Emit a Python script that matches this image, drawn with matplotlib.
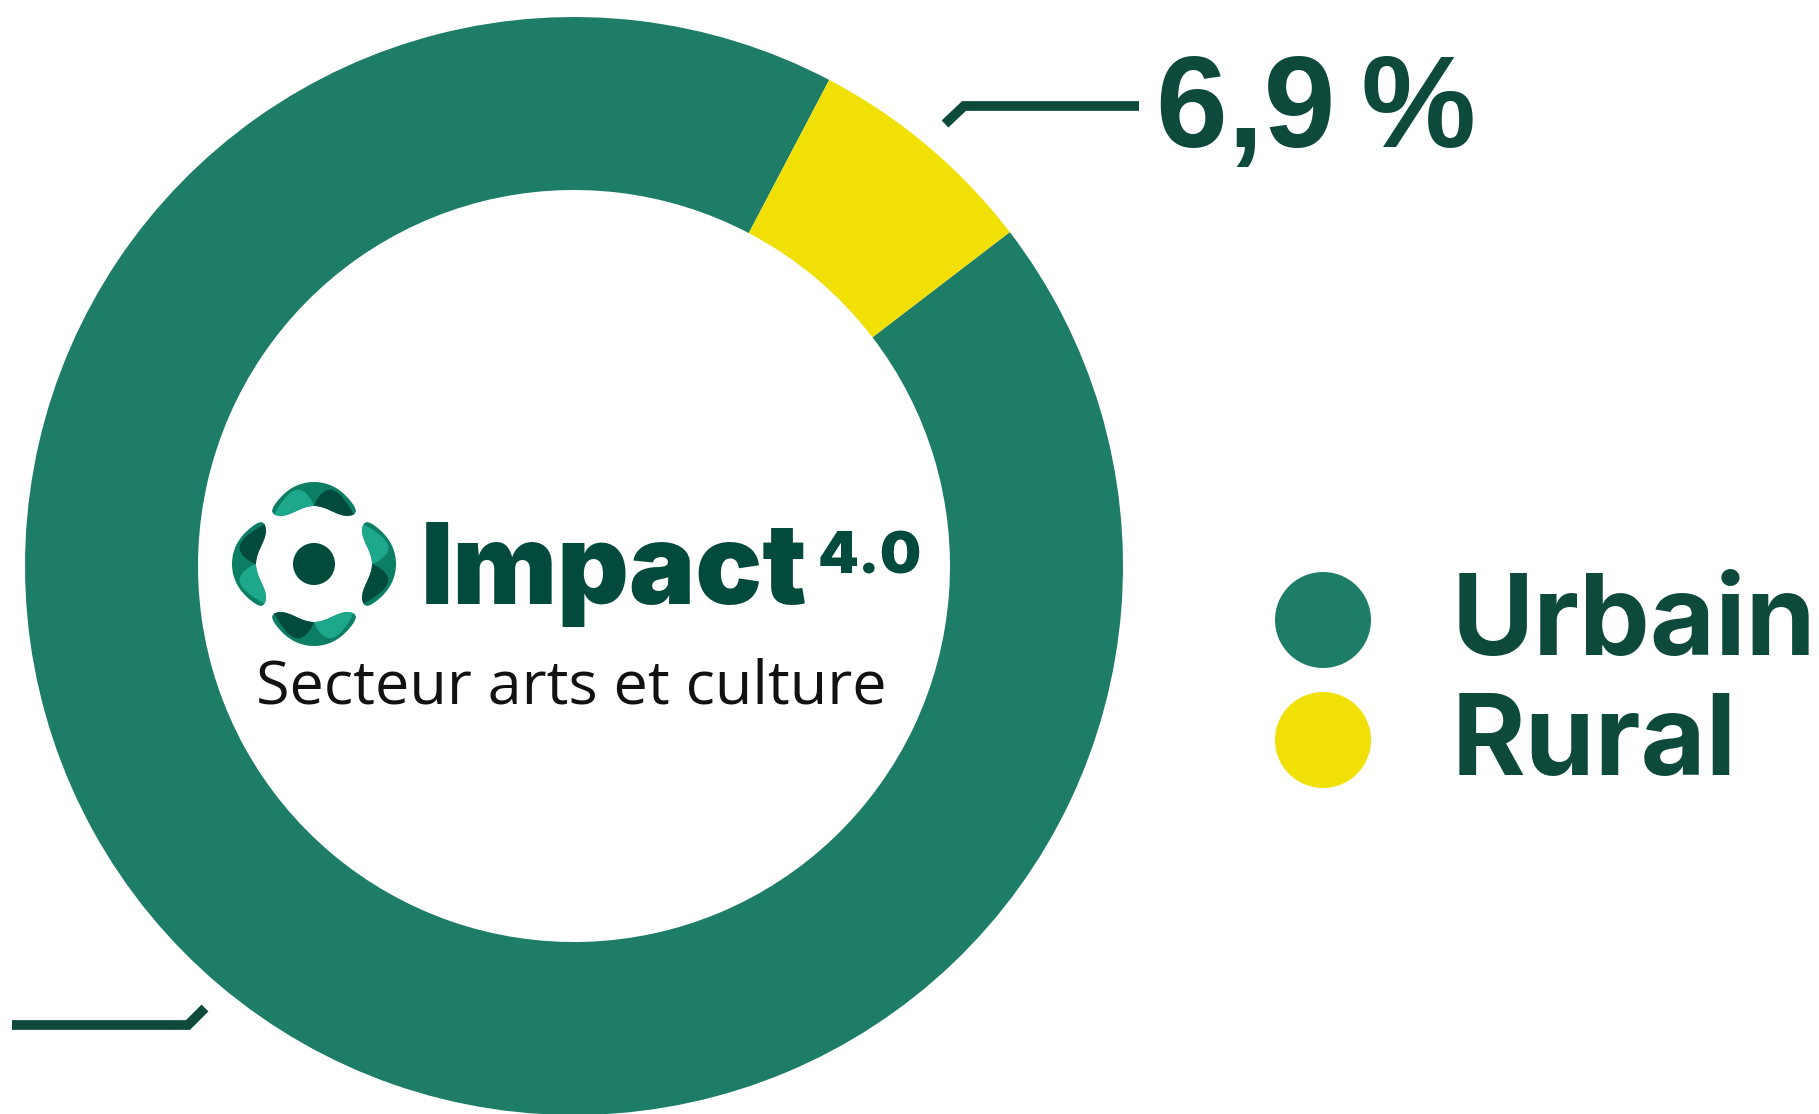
import numpy as np
import matplotlib
matplotlib.use("Agg")
from matplotlib import pyplot as plt
from matplotlib.patches import Circle, Polygon

# data
labels = ["Urbain", "Rural"]
shares = [93.1, 6.9]
colors = ["#1e7d66", "#f0e006"]
rural_label = "6,9\u2009%"

W, H = 1819, 1114
dark = "#0e4a3b"

fig = plt.figure(figsize=(W / 100, H / 100), dpi=100)
ax = fig.add_axes([0, 0, 1, 1])

# donut, pixel coordinates with y going up
cx, cy = 574, H - 566
R_out, ring = 549, 173
ax.pie(
    shares,
    colors=colors,
    startangle=62.3,
    counterclock=True,
    center=(cx, cy),
    radius=R_out,
    wedgeprops=dict(width=ring, linewidth=0),
)
ax.set_xlim(0, W)
ax.set_ylim(0, H)
ax.set_aspect("auto")
ax.axis("off")

# leader lines
ax.plot([945, 964, 1139], [H - 124, H - 106, H - 106], color=dark, lw=7.0,
        solid_capstyle="butt", solid_joinstyle="miter")
ax.plot([12, 188, 205], [H - 1025, H - 1025, H - 1008], color=dark, lw=7.0,
        solid_capstyle="butt", solid_joinstyle="miter")

ax.text(1156, H - 147, rural_label, fontsize=93, fontweight="bold",
        family=["Liberation Sans", "DejaVu Sans"], color=dark, ha="left", va="baseline")

# legend
for i, (lab, col) in enumerate(zip(labels, colors)):
    yc = H - (620 + 120 * i)
    ax.add_patch(Circle((1323, yc), 48, color=col, lw=0))
    ax.text(1452, yc - 35, lab, fontsize=81, fontweight="bold",
            family=["Inter", "DejaVu Sans"], color=dark, ha="left", va="baseline")

# logo in the hole
lx, ly = 314, H - 564
teal, deep, mid = "#1da88b", "#024a3b", "#0c7e63"
ax.add_patch(Circle((lx, ly), 21, color=deep, lw=0))
HW = 42


def to_xy(d, u, v):
    er = np.array([np.cos(np.radians(d)), np.sin(np.radians(d))])
    et = np.array([-er[1], er[0]])
    return np.column_stack([lx + v * er[0] + u * et[0], ly + v * er[1] + u * et[1]])


def edges(u):
    vi = 51 + 7 * np.cos(np.pi * u / HW)
    vo = 82 - 20 * (u / HW) ** 2
    m = (vi + vo) / 2
    f = np.sqrt(np.clip(1 - (np.abs(u) / HW) ** 4, 0, 1))
    return m + (vi - m) * f, m + (vo - m) * f


u = np.linspace(-HW, HW, 80)
for d in [90, 0, 270, 180]:
    vi, vo = edges(u)
    band = np.concatenate([to_xy(d, u, vo), to_xy(d, u[::-1], vi[::-1])])
    ax.add_patch(Polygon(band, closed=True, color=mid, lw=0))
    for sgn, col in [(1, teal), (-1, deep)]:
        uh = sgn * np.linspace(0, HW, 50)
        lo, hi = edges(uh)
        thick = 22 * np.sin(np.pi * np.abs(uh) / HW) ** 0.8
        top = np.maximum(lo, np.minimum(51 + 7 * np.cos(np.pi * uh / HW) + thick, hi))
        lens = np.concatenate([to_xy(d, uh, lo), to_xy(d, uh[::-1], top[::-1])])
        ax.add_patch(Polygon(lens, closed=True, color=col, lw=0))

ax.text(421, H - 604, "Impact", fontsize=80, fontweight="black",
        family=["Inter", "DejaVu Sans"], color=deep, ha="left", va="baseline")
ax.text(818, H - 573, "4.0", fontsize=42, fontweight="black",
        family=["Inter", "DejaVu Sans"], color=deep, ha="left", va="baseline")
ax.text(256, H - 703, "Secteur arts et culture", fontsize=44, fontweight="normal",
        family=["Open Sans", "DejaVu Sans"], color="#111111", ha="left", va="baseline")

fig.savefig("out.png", dpi=100)
